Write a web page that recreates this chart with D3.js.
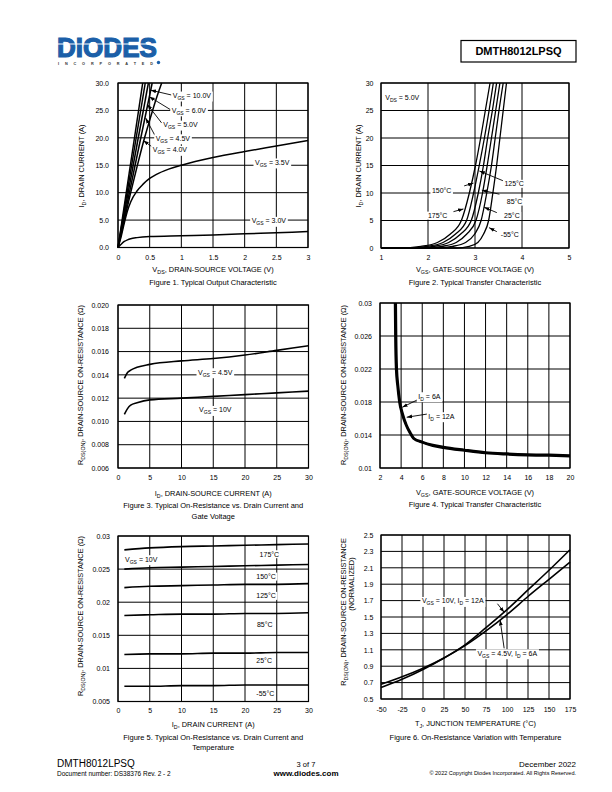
<!DOCTYPE html>
<html>
<head>
<meta charset="utf-8">
<script src="https://cdn.jsdelivr.net/npm/d3@7"></script>
<style>
  body { margin: 0; background: #fff; }
  svg { display: block; font-family: "Liberation Sans", Arial, Helvetica, sans-serif; }
</style>
</head>
<body>
<div id="page"></div>
<script>
// ---------- Figure 1: output characteristic ----------
var fig1XTicks = [0, 0.5, 1, 1.5, 2, 2.5, 3];
var fig1YTicks = [0, 5, 10, 15, 20, 25, 30];
var fig1Vds30 = [0, 0.05, 0.1, 0.15, 0.2, 0.3, 0.5, 1, 1.5, 2, 2.5, 3];
var fig1Id30  = [0, 0.6, 1.1, 1.4, 1.6, 1.8, 2.0, 2.15, 2.3, 2.5, 2.7, 2.9];
var fig1Vds35 = [0, 0.05, 0.1, 0.15, 0.2, 0.3, 0.4, 0.5, 0.6, 0.8, 1, 1.5, 2, 2.5, 3];
var fig1Id35  = [0, 2, 4.5, 6.7, 8.3, 10.3, 11.6, 12.6, 13.3, 14.3, 15, 16.4, 17.5, 18.5, 19.5];
var fig1Vds40 = [0, 0.1, 0.2, 0.3, 0.4, 0.5, 0.6, 0.69];
var fig1Id40  = [0, 5, 10, 14.7, 19.2, 23.2, 27, 30];
// VGS 10, 6, 5, 4.5: near-linear, VDS where ID reaches 30 A
var fig1SteepVgs = ["10.0", "6.0", "5.0", "4.5"];
var fig1SteepVds = [0.39, 0.43, 0.48, 0.54];
var fig1Labels = [
  {t: "V_{GS} = 10.0V", x: 0.864, y: 27.7}, {t: "V_{GS} = 6.0V", x: 0.848, y: 25.0},
  {t: "V_{GS} = 5.0V", x: 0.715, y: 22.4}, {t: "V_{GS} = 4.5V", x: 0.595, y: 19.9},
  {t: "V_{GS} = 4.0V", x: 0.548, y: 17.8}, {t: "V_{GS} = 3.5V", x: 2.163, y: 15.5},
  {t: "V_{GS} = 3.0V", x: 2.11, y: 4.85}
];
var fig1Arrows = [
  [0.848, 27.8, 0.516, 28.7], [0.848, 25.0, 0.494, 27.5], [0.69, 22.7, 0.463, 26.1],
  [0.584, 20.4, 0.437, 23.6], [0.532, 18.4, 0.40, 19.5]
];

// ---------- Figure 2: transfer characteristic ----------
var fig2XTicks = [1, 2, 3, 4, 5];
var fig2YTicks = [0, 5, 10, 15, 20, 25, 30];
var fig2Id   = [0, 0.3, 1, 2.5, 5, 10, 15, 20, 25, 30];
var fig2V175 = [1.40, 1.85, 2.20, 2.47, 2.71, 2.88, 3.01, 3.12, 3.22, 3.32];
var fig2V150 = [1.55, 1.98, 2.32, 2.58, 2.82, 2.97, 3.09, 3.20, 3.30, 3.39];
var fig2V125 = [1.70, 2.12, 2.44, 2.69, 2.92, 3.07, 3.18, 3.27, 3.37, 3.46];
var fig2V85  = [1.90, 2.30, 2.60, 2.82, 3.02, 3.16, 3.26, 3.35, 3.44, 3.53];
var fig2V25  = [2.15, 2.52, 2.80, 2.99, 3.13, 3.25, 3.35, 3.43, 3.51, 3.60];
var fig2Vm55 = [2.60, 2.88, 3.06, 3.18, 3.29, 3.38, 3.46, 3.53, 3.60, 3.67];
var fig2Labels = [
  {t: "V_{DS} = 5.0V", x: 1.09, y: 27.3},
  {t: "125°C", x: 3.625, y: 11.66}, {t: "85°C", x: 3.676, y: 8.43},
  {t: "25°C", x: 3.619, y: 5.83}, {t: "-55°C", x: 3.549, y: 2.50},
  {t: "150°C", x: 2.083, y: 10.38}, {t: "175°C", x: 1.998, y: 5.88}
];
var fig2Arrows = [
  [3.604, 12.2, 3.094, 14.0], [3.519, 9.78, 3.145, 10.51], [3.464, 6.43, 3.194, 7.41],
  [3.464, 2.97, 3.30, 3.70], [2.769, 11.29, 2.967, 11.79], [2.542, 6.61, 2.754, 7.10]
];

// ---------- Figure 3: RDS(on) vs ID and VGS ----------
var fig3XTicks = [0, 5, 10, 15, 20, 25, 30];
var fig3YTicks = [0.006, 0.008, 0.010, 0.012, 0.014, 0.016, 0.018, 0.020];
var fig3Id  = [1, 1.5, 2, 3, 5, 10, 15, 20, 25, 30];
var fig3R45 = [0.0137, 0.0142, 0.0144, 0.01465, 0.0149, 0.0152, 0.0154, 0.0157, 0.0161, 0.0165];
var fig3R10 = [0.0106, 0.0111, 0.0114, 0.0116, 0.01185, 0.0120, 0.01215, 0.0123, 0.01245, 0.0126];
var fig3Labels = [{t: "V_{GS} = 4.5V", x: 12.6, y: 0.01422}, {t: "V_{GS} = 10V", x: 12.77, y: 0.01098}];

// ---------- Figure 4: RDS(on) vs VGS ----------
var fig4XTicks = [2, 4, 6, 8, 10, 12, 14, 16, 18, 20];
var fig4YTicks = [0.01, 0.014, 0.018, 0.022, 0.026, 0.03];
var fig4V6  = [3.42, 3.45, 3.52, 3.65, 3.83, 4.10, 4.46, 4.80, 5.15, 6.0, 7, 8, 10, 12, 14, 16, 18, 20];
var fig4R6  = [0.030, 0.026, 0.022, 0.020, 0.018, 0.0165, 0.0152, 0.0143, 0.0136, 0.0131, 0.0127, 0.01245, 0.0121, 0.0118, 0.01165, 0.01155, 0.0115, 0.01143];
var fig4V12 = [3.50, 3.53, 3.60, 3.72, 3.90, 4.17, 4.52, 4.88, 5.22, 6.05, 7, 8, 10, 12, 14, 16, 18, 20];
var fig4R12 = [0.030, 0.026, 0.022, 0.020, 0.018, 0.0165, 0.0152, 0.0143, 0.0136, 0.01315, 0.0128, 0.01255, 0.0122, 0.0119, 0.01175, 0.01165, 0.0116, 0.01153];
var fig4Labels = [{t: "I_{D} = 6A", x: 5.63, y: 0.01869}, {t: "I_{D} = 12A", x: 6.58, y: 0.01627}];
var fig4Arrows = [[5.57, 0.01828, 4.11, 0.01736], [6.52, 0.01655, 4.53, 0.01615]];

// ---------- Figure 5: RDS(on) vs ID and temperature ----------
var fig5XTicks = [0, 5, 10, 15, 20, 25, 30];
var fig5YTicks = [0.005, 0.01, 0.015, 0.02, 0.025, 0.03];
var fig5Id   = [1, 5, 10, 15, 20, 25, 30];
var fig5R175 = [0.0279, 0.0282, 0.0284, 0.0285, 0.0286, 0.0287, 0.0288];
var fig5R150 = [0.0250, 0.0252, 0.0253, 0.0254, 0.0255, 0.0256, 0.0257];
var fig5R125 = [0.0222, 0.0224, 0.0225, 0.0226, 0.0227, 0.0227, 0.0228];
var fig5R85  = [0.0180, 0.0181, 0.0182, 0.0182, 0.0183, 0.0183, 0.0184];
var fig5R25  = [0.0121, 0.0122, 0.0122, 0.0123, 0.0123, 0.0124, 0.0124];
var fig5Rm55 = [0.0073, 0.0073, 0.0074, 0.0074, 0.0075, 0.0075, 0.0075];
var fig5Labels = [
  {t: "175°C", x: 22.3, y: 0.02724}, {t: "150°C", x: 21.78, y: 0.02386},
  {t: "125°C", x: 21.78, y: 0.02095}, {t: "85°C", x: 21.88, y: 0.01657},
  {t: "25°C", x: 21.78, y: 0.01114}, {t: "-55°C", x: 21.78, y: 0.00627},
  {t: "V_{GS} = 10V", x: 1.1, y: 0.02648}
];

// ---------- Figure 6: normalized RDS(on) vs temperature ----------
var fig6XTicks = [-50, -25, 0, 25, 50, 75, 100, 125, 150, 175];
var fig6YTicks = [0.5, 0.7, 0.9, 1.1, 1.3, 1.5, 1.7, 1.9, 2.1, 2.3, 2.5];
var fig6T   = [-50, -25, 0, 25, 50, 75, 100, 125, 150, 175];
var fig6N10 = [0.64, 0.74, 0.86, 1.0, 1.16, 1.37, 1.59, 1.83, 2.07, 2.32];
var fig6N45 = [0.68, 0.77, 0.875, 1.0, 1.15, 1.33, 1.53, 1.75, 1.96, 2.17];
var fig6Labels = [{t: "V_{GS} = 10V, I_{D} = 12A", x: -1.3, y: 1.695}, {t: "V_{GS} = 4.5V, I_{D} = 6A", x: 64.8, y: 1.057}];
var fig6Arrows = [[88.6, 1.662, 96.6, 1.557], [96.6, 1.118, 91.8, 1.463]];

var FONT = "'Liberation Sans', Arial, Helvetica, sans-serif";

var svg = d3.select("#page").append("svg").attr("width", 612).attr("height", 792);

svg.append("defs").append("marker")
    .attr("id", "arr").attr("viewBox", "0 0 10 10")
    .attr("refX", 10).attr("refY", 5)
    .attr("markerWidth", 6).attr("markerHeight", 6)
    .attr("orient", "auto")
  .append("path").attr("d", "M0,1.5L10,5L0,8.5z").attr("fill", "#000");

function zip(a, b) { return a.map(function(v, i) { return [v, b[i]]; }); }

// text with _{...} subscripts
function rich(t, str, fs) {
  var parts = str.split(/(_\{[^}]*\})/).filter(function(p) { return p.length; });
  var shift = 0;
  parts.forEach(function(p) {
    if (p.slice(0, 2) === "_{") {
      t.append("tspan").attr("font-size", fs * 0.72).attr("dy", fs * 0.28).text(p.slice(2, -1));
      shift = fs * 0.28;
    } else {
      var s = t.append("tspan").text(p);
      if (shift) s.attr("dy", -shift);
      shift = 0;
    }
  });
  return t;
}

function addText(g, px, py, str, fs, opts) {
  opts = opts || {};
  var t = g.append("text")
    .attr("x", px).attr("y", py + fs * 0.35)
    .attr("font-size", fs)
    .attr("text-anchor", opts.anchor || "start");
  if (opts.bold) t.attr("font-weight", "bold");
  if (opts.rotate) t.attr("transform", "rotate(-90," + px + "," + py + ")");
  rich(t, str, fs);
  if (opts.bg) {
    var b = t.node().getBBox();
    g.insert("rect", function() { return t.node(); })
      .attr("x", b.x - 1.5).attr("y", b.y - 0.5)
      .attr("width", b.width + 3).attr("height", b.height + 1)
      .attr("fill", "#fff");
  }
  return t;
}

function panel(box, xd, yd, xt, yt, xf, yf) {
  var g = svg.append("g");
  var x = d3.scaleLinear().domain(xd).range([box.x0, box.x1]);
  var y = d3.scaleLinear().domain(yd).range([box.y1, box.y0]);

  g.append("g").selectAll("line").data(xt).join("line")
    .attr("x1", function(d) { return x(d); }).attr("x2", function(d) { return x(d); })
    .attr("y1", box.y0).attr("y2", box.y1)
    .attr("stroke", "#000").attr("stroke-width", 1);
  g.append("g").selectAll("line").data(yt).join("line")
    .attr("y1", function(d) { return y(d); }).attr("y2", function(d) { return y(d); })
    .attr("x1", box.x0).attr("x2", box.x1)
    .attr("stroke", "#000").attr("stroke-width", 1);

  var ax = g.append("g").attr("transform", "translate(0," + box.y1 + ")")
    .call(d3.axisBottom(x).tickValues(xt).tickFormat(xf).tickSize(0).tickPadding(box.xpad));
  var ay = g.append("g").attr("transform", "translate(" + box.x0 + ",0)")
    .call(d3.axisLeft(y).tickValues(yt).tickFormat(yf).tickSize(0).tickPadding(box.ypad));
  [ax, ay].forEach(function(a) {
    a.select(".domain").remove();
    a.attr("font-size", 7).attr("font-family", FONT);
  });

  var layer = g.append("g");
  var anno = g.append("g");
  g.append("rect")
    .attr("x", box.x0).attr("y", box.y0)
    .attr("width", box.x1 - box.x0).attr("height", box.y1 - box.y0)
    .attr("fill", "none").attr("stroke", "#000").attr("stroke-width", 1.2);

  var cx = (box.x0 + box.x1) / 2;
  addText(g, cx, box.xTitleY, box.xTitle, 7.4, {anchor: "middle"});
  box.caption.forEach(function(c, i) {
    addText(g, cx, box.capY + i * 10.5, c, 7.5, {anchor: "middle"});
  });
  box.yTitle.forEach(function(t, i) {
    addText(g, t.x, t.y, t.s, 7.4, {anchor: "middle", rotate: true});
  });
  return {x: x, y: y, layer: layer, anno: anno};
}

function drawLine(p, pts, w, curve) {
  var line = d3.line()
    .x(function(d) { return p.x(d[0]); })
    .y(function(d) { return p.y(d[1]); })
    .curve(curve || d3.curveMonotoneX);
  p.layer.append("path").attr("d", line(pts))
    .attr("fill", "none").attr("stroke", "#000")
    .attr("stroke-width", w).attr("stroke-linejoin", "round");
}

function drawLabels(p, labels, fs) {
  labels.forEach(function(l) {
    addText(p.anno, p.x(l.x), p.y(l.y), l.t, fs, {bg: true});
  });
}

function drawArrows(p, arrows) {
  p.anno.selectAll("line.arw").data(arrows).join("line").attr("class", "arw")
    .attr("x1", function(d) { return p.x(d[0]); }).attr("y1", function(d) { return p.y(d[1]); })
    .attr("x2", function(d) { return p.x(d[2]); }).attr("y2", function(d) { return p.y(d[3]); })
    .attr("stroke", "#000").attr("stroke-width", 0.9)
    .attr("marker-end", "url(#arr)");
}

var f1 = d3.format(".1f"), f3 = d3.format(".3f");
var plain = function(d) { return String(d); };
var RDS = "R_{DS(ON)}, DRAIN-SOURCE ON-RESISTANCE (Ω)";

// Figure 1
var p1 = panel({x0: 118, x1: 308, y0: 83, y1: 247.5, xpad: 7.5, ypad: 9,
    xTitle: "V_{DS}, DRAIN-SOURCE VOLTAGE (V)", xTitleY: 269.5,
    caption: ["Figure 1. Typical Output Characteristic"], capY: 282.5,
    yTitle: [{s: "I_{D}, DRAIN CURRENT (A)", x: 81, y: 166}]},
  [0, 3], [0, 30], fig1XTicks, fig1YTicks, plain, f1);
drawLine(p1, zip(fig1Vds30, fig1Id30), 1.5);
drawLine(p1, zip(fig1Vds35, fig1Id35), 1.5);
drawLine(p1, zip(fig1Vds40, fig1Id40), 1.5);
fig1SteepVds.forEach(function(v) { drawLine(p1, [[0, 0], [v, 30]], 1.5, d3.curveLinear); });
drawArrows(p1, fig1Arrows);
drawLabels(p1, fig1Labels, 7);

// Figure 2
var p2 = panel({x0: 381, x1: 569, y0: 83, y1: 248, xpad: 7.2, ypad: 7.5,
    xTitle: "V_{GS}, GATE-SOURCE VOLTAGE (V)", xTitleY: 269.5,
    caption: ["Figure 2. Typical Transfer Characteristic"], capY: 282.5,
    yTitle: [{s: "I_{D}, DRAIN CURRENT (A)", x: 358, y: 166}]},
  [1, 5], [0, 30], fig2XTicks, fig2YTicks, plain, plain);
[fig2V175, fig2V150, fig2V125, fig2V85, fig2V25, fig2Vm55].forEach(function(vs) {
  drawLine(p2, [[1, 0]].concat(zip(vs, fig2Id)), 1.3);
});
drawArrows(p2, fig2Arrows);
drawLabels(p2, fig2Labels, 7);

// Figure 3
var p3 = panel({x0: 118, x1: 308.5, y0: 305, y1: 468, xpad: 7.2, ypad: 9,
    xTitle: "I_{D}, DRAIN-SOURCE CURRENT (A)", xTitleY: 493,
    caption: ["Figure 3. Typical On-Resistance vs. Drain Current and", "Gate Voltage"], capY: 505.5,
    yTitle: [{s: RDS, x: 80, y: 385}]},
  [0, 30], [0.006, 0.020], fig3XTicks, fig3YTicks, plain, f3);
drawLine(p3, zip(fig3Id, fig3R45), 1.6);
drawLine(p3, zip(fig3Id, fig3R10), 1.6);
drawLabels(p3, fig3Labels, 7);

// Figure 4
var p4 = panel({x0: 380, x1: 570, y0: 303, y1: 468, xpad: 7.2, ypad: 8,
    xTitle: "V_{GS}, GATE-SOURCE VOLTAGE (V)", xTitleY: 492,
    caption: ["Figure 4. Typical Transfer Characteristic"], capY: 504.5,
    yTitle: [{s: RDS, x: 343, y: 385}]},
  [2, 20], [0.01, 0.03], fig4XTicks, fig4YTicks, plain, plain);
drawLine(p4, zip(fig4V6, fig4R6), 2.4);
drawLine(p4, zip(fig4V12, fig4R12), 2.4);
drawArrows(p4, fig4Arrows);
drawLabels(p4, fig4Labels, 7);

// Figure 5
var p5 = panel({x0: 118, x1: 308.5, y0: 536, y1: 701.5, xpad: 6.2, ypad: 8,
    xTitle: "I_{D}, DRAIN CURRENT (A)", xTitleY: 724,
    caption: ["Figure 5. Typical On-Resistance vs. Drain Current and", "Temperature"], capY: 737,
    yTitle: [{s: RDS, x: 80, y: 616}]},
  [0, 30], [0.005, 0.03], fig5XTicks, fig5YTicks, plain, plain);
[fig5R175, fig5R150, fig5R125, fig5R85, fig5R25, fig5Rm55].forEach(function(rs) {
  drawLine(p5, zip(fig5Id, rs), 1.6);
});
drawLabels(p5, fig5Labels, 7);

// Figure 6
var p6 = panel({x0: 381, x1: 570, y0: 535, y1: 699, xpad: 7.8, ypad: 7.5,
    xTitle: "T_{J}, JUNCTION TEMPERATURE (°C)", xTitleY: 723,
    caption: ["Figure 6. On-Resistance Variation with Temperature"], capY: 737,
    yTitle: [{s: "R_{DS(ON)}, DRAIN-SOURCE ON-RESISTANCE", x: 343, y: 612},
             {s: "(NORMALIZED)", x: 351, y: 584}]},
  [-50, 175], [0.5, 2.5], fig6XTicks, fig6YTicks, plain, f1);
drawLine(p6, zip(fig6T, fig6N10), 1.6);
drawLine(p6, zip(fig6T, fig6N45), 1.6);
drawArrows(p6, fig6Arrows);
drawLabels(p6, fig6Labels, 7);

// ---------- header ----------
var hdr = svg.append("g");
hdr.append("text").attr("x", 57).attr("y", 57)
  .attr("font-size", 27).attr("font-weight", "bold").attr("fill", "#1b5fa8")
  .attr("stroke", "#1b5fa8").attr("stroke-width", 1.2)
  .attr("textLength", 100).attr("lengthAdjust", "spacingAndGlyphs").text("DIODES");
hdr.append("line").attr("x1", 56).attr("x2", 158).attr("y1", 44).attr("y2", 44)
  .attr("stroke", "#fff").attr("stroke-width", 1.1);
hdr.append("text").attr("x", 58).attr("y", 64.5)
  .attr("font-size", 3.8).attr("font-weight", "bold").attr("fill", "#333")
  .attr("textLength", 95).attr("lengthAdjust", "spacing").text("INCORPORATED");
hdr.append("circle").attr("cx", 158.5).attr("cy", 62.5).attr("r", 1.7).attr("fill", "#1b5fa8");
hdr.append("rect").attr("x", 461).attr("y", 40.5).attr("width", 115).attr("height", 21.5)
  .attr("fill", "none").attr("stroke", "#000").attr("stroke-width", 1.2);
hdr.append("text").attr("x", 518.5).attr("y", 55.3).attr("text-anchor", "middle")
  .attr("font-size", 11).attr("font-weight", "bold").text("DMTH8012LPSQ");

// ---------- footer ----------
var ftr = svg.append("g");
ftr.append("text").attr("x", 57).attr("y", 767).attr("font-size", 10).text("DMTH8012LPSQ");
ftr.append("text").attr("x", 57).attr("y", 775.5).attr("font-size", 6.5).text("Document number: DS38376 Rev. 2 - 2");
ftr.append("text").attr("x", 306).attr("y", 766.5).attr("text-anchor", "middle").attr("font-size", 7.5).text("3 of 7");
ftr.append("text").attr("x", 306).attr("y", 775.5).attr("text-anchor", "middle").attr("font-size", 8).attr("font-weight", "bold").text("www.diodes.com");
ftr.append("text").attr("x", 576).attr("y", 767).attr("text-anchor", "end").attr("font-size", 8).text("December 2022");
ftr.append("text").attr("x", 576).attr("y", 774.5).attr("text-anchor", "end").attr("font-size", 5.5).text("© 2022 Copyright Diodes Incorporated. All Rights Reserved.");
</script>
</body>
</html>
